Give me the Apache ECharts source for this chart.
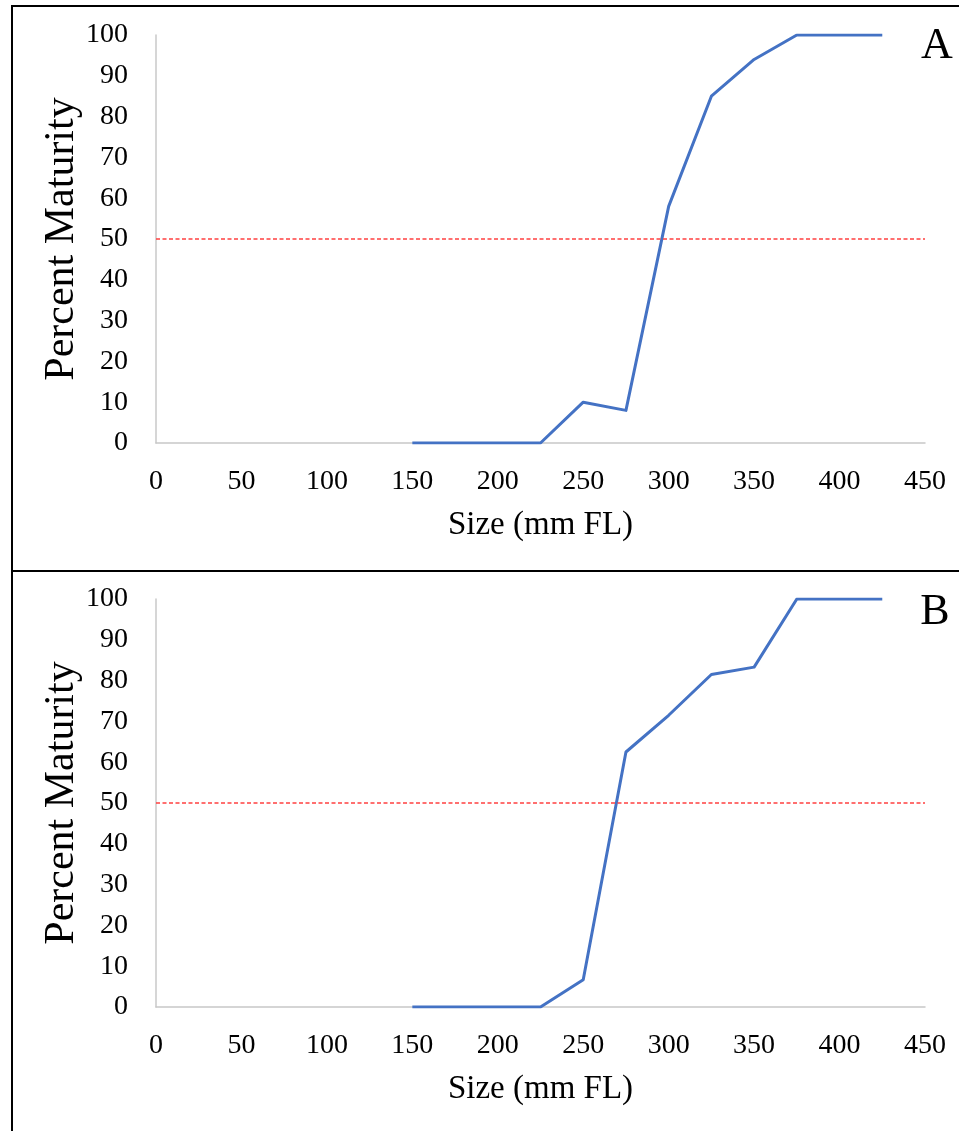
<!DOCTYPE html>
<html>
<head>
<meta charset="utf-8">
<script src="https://cdn.jsdelivr.net/npm/echarts@6/dist/echarts.min.js"></script>
<style>
html,body{margin:0;padding:0;background:#fff;}
#chart{width:959px;height:1131px;}
</style>
</head>
<body>
<div id="chart"></div>
<script>
// ---- data ----
var sizes = [150, 175, 200, 225, 250, 275, 300, 325, 350, 375, 400, 425];
var maturityA = [0, 0, 0, 0, 10, 8, 58, 85, 94, 100, 100, 100];
var maturityB = [0, 0, 0, 0, 6.7, 62.5, 71.5, 81.5, 83.3, 100, 100, 100];
var threshold = 50;
var xTicks = [0, 50, 100, 150, 200, 250, 300, 350, 400, 450];
var yTicks = [0, 10, 20, 30, 40, 50, 60, 70, 80, 90, 100];
var panelLabels = ['A', 'B'];
var xTitle = 'Size (mm FL)';
var yTitle = 'Percent Maturity';

var FONT = "'Liberation Serif','Times New Roman',serif";

function pairs(xs, ys) {
  return xs.map(function (x, i) { return [x, ys[i]]; });
}

var grids = [
  { left: 156, top: 35, right: 34, height: 408 },
  { left: 156, top: 599, right: 34, height: 408 }
];

function xAxisFor(i) {
  return {
    type: 'value', gridIndex: i,
    min: xTicks[0], max: xTicks[xTicks.length - 1], interval: xTicks[1] - xTicks[0],
    axisLine: { show: true, lineStyle: { color: '#c8c8c8', width: 1.5 } },
    axisTick: { show: false },
    splitLine: { show: false },
    axisLabel: { color: '#000', fontFamily: FONT, fontSize: 28, margin: 25 },
    name: xTitle, nameLocation: 'middle', nameGap: 66, nameMoveOverlap: false,
    nameTextStyle: { color: '#000', fontFamily: FONT, fontSize: 33 }
  };
}
function yAxisFor(i) {
  return {
    type: 'value', gridIndex: i,
    min: yTicks[0], max: yTicks[yTicks.length - 1], interval: yTicks[1] - yTicks[0],
    axisLine: { show: true, lineStyle: { color: '#c8c8c8', width: 1.5 } },
    axisTick: { show: false },
    splitLine: { show: false },
    axisLabel: { color: '#000', fontFamily: FONT, fontSize: 28, margin: 28 },
    name: yTitle, nameLocation: 'middle', nameGap: 73, nameRotate: 90, nameMoveOverlap: false,
    nameTextStyle: { color: '#000', fontFamily: FONT, fontSize: 42 }
  };
}

function lineSeries(i, ys) {
  return {
    type: 'line', xAxisIndex: i, yAxisIndex: i,
    data: pairs(sizes, ys),
    symbol: 'none',
    lineStyle: { color: '#4472C4', width: 3, join: 'round' },
    animation: false,
    markLine: {
      silent: true, symbol: 'none', animation: false,
      label: { show: false },
      lineStyle: { color: '#ff4040', width: 1.5, type: [4, 2.5] },
      data: [{ yAxis: threshold }]
    }
  };
}

var chart = echarts.init(document.getElementById('chart'), null, { renderer: 'canvas' });
chart.setOption({
  backgroundColor: '#fff',
  animation: false,
  grid: grids,
  xAxis: [xAxisFor(0), xAxisFor(1)],
  yAxis: [yAxisFor(0), yAxisFor(1)],
  series: [lineSeries(0, maturityA), lineSeries(1, maturityB)],
  graphic: [
    { type: 'rect', shape: { x: 12, y: 6, width: 960, height: 565 }, style: { fill: 'none', stroke: '#000', lineWidth: 2 }, silent: true },
    { type: 'rect', shape: { x: 12, y: 571, width: 960, height: 580 }, style: { fill: 'none', stroke: '#000', lineWidth: 2 }, silent: true },
    { type: 'text', x: 937, y: 46, style: { text: panelLabels[0], font: '44px ' + FONT, fill: '#000', align: 'center', verticalAlign: 'middle' } },
    { type: 'text', x: 935, y: 612, style: { text: panelLabels[1], font: '44px ' + FONT, fill: '#000', align: 'center', verticalAlign: 'middle' } }
  ]
});
</script>
</body>
</html>
